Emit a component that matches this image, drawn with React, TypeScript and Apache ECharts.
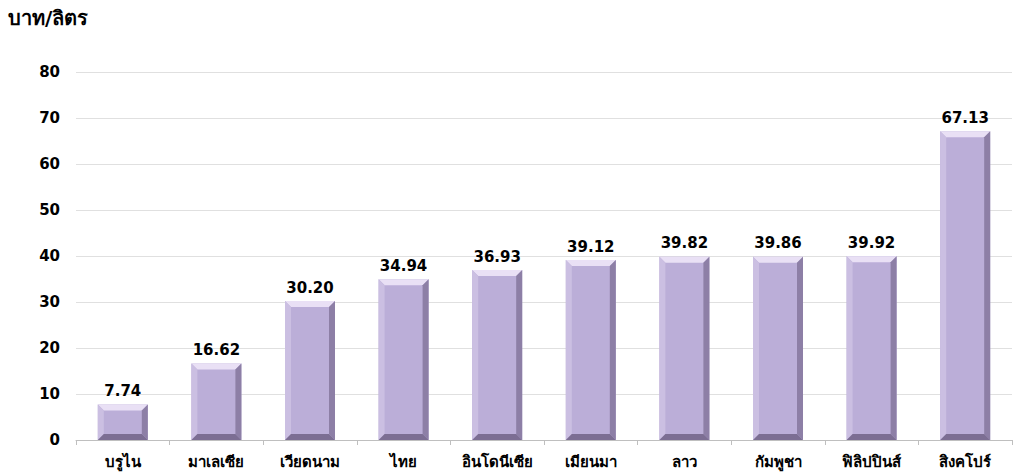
import React, { useEffect, useRef } from "react";
import * as echarts from "echarts";

const categories = ["บรูไน", "มาเลเซีย", "เวียดนาม", "ไทย", "อินโดนีเซีย", "เมียนมา", "ลาว", "กัมพูชา", "ฟิลิปปินส์", "สิงคโปร์"];
const prices = [7.74, 16.62, 30.2, 34.94, 36.93, 39.12, 39.82, 39.86, 39.92, 67.13];
const unitLabel = "บาท/ลิตร";

const FONT = "Tahoma, 'DejaVu Sans', 'Noto Sans', sans-serif";

export default function App() {
  const ref = useRef<HTMLDivElement>(null);
  useEffect(() => {
    if (!ref.current) return;
    const chart = echarts.init(ref.current, undefined, { renderer: "svg" });
    chart.setOption({
      animation: false,
      backgroundColor: "#ffffff",
      graphic: [
        {
          type: "text",
          left: 8,
          top: 8,
          style: { text: unitLabel, font: `bold 20px ${FONT}`, fill: "#000" },
        },
      ],
      grid: { left: 76, right: 2, top: 72, bottom: 32 },
      xAxis: {
        type: "category",
        data: categories,
        axisLine: { lineStyle: { color: "#bfbfbf", width: 1 } },
        axisTick: { show: true, length: 5, lineStyle: { color: "#bfbfbf" } },
        axisLabel: { color: "#000", fontWeight: "bold", fontSize: 15, fontFamily: FONT, margin: 14, interval: 0 },
      },
      yAxis: {
        type: "value",
        min: 0,
        max: 80,
        interval: 10,
        axisLine: { show: false },
        axisTick: { show: false },
        splitLine: { lineStyle: { color: "#e0e0e0", width: 1 } },
        axisLabel: { color: "#000", fontWeight: "bold", fontSize: 15, fontFamily: FONT, margin: 16 },
      },
      series: [
        {
          type: "custom",
          data: prices.map((v, i) => [i, v]),
          encode: { x: 0, y: 1 },
          renderItem: (params: any, api: any) => {
            const idx = api.value(0);
            const val = api.value(1);
            const top = api.coord([idx, val]);
            const base = api.coord([idx, 0]);
            const w = 50;
            const b = 6;
            const l = top[0] - w / 2;
            const r = top[0] + w / 2;
            const t = top[1];
            const btm = base[1];
            return {
              type: "group",
              children: [
                { type: "rect", shape: { x: l, y: t, width: w, height: btm - t }, style: { fill: "#bbaed8" } },
                { type: "polygon", shape: { points: [[l, t], [r, t], [r - b, t + b], [l + b, t + b]] }, style: { fill: "#e9e0f5" } },
                { type: "polygon", shape: { points: [[l, t], [l + b, t + b], [l + b, btm - b], [l, btm]] }, style: { fill: "#cbbfe2" } },
                { type: "polygon", shape: { points: [[r, t], [r, btm], [r - b, btm - b], [r - b, t + b]] }, style: { fill: "#8d7fa6" } },
                { type: "polygon", shape: { points: [[l, btm], [r, btm], [r - b, btm - b], [l + b, btm - b]] }, style: { fill: "#7c6e93" } },
                {
                  type: "text",
                  style: {
                    text: val.toFixed(2),
                    x: top[0],
                    y: t - 6,
                    align: "center",
                    verticalAlign: "bottom",
                    font: `bold 15px ${FONT}`,
                    fill: "#000",
                  },
                },
              ],
            };
          },
        },
      ],
    });
    return () => chart.dispose();
  }, []);
  return <div ref={ref} style={{ position: "fixed", left: 0, top: 0, width: 1014, height: 472 }} />;
}
